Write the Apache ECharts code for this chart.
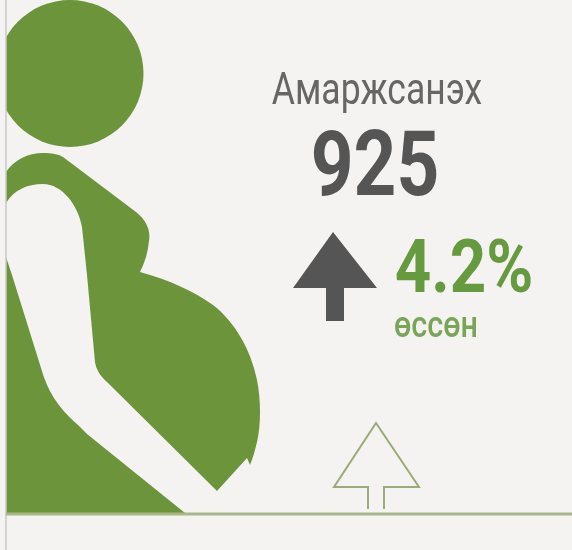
<!DOCTYPE html>
<html>
<head>
<meta charset="utf-8">
<title>Амаржсанэх</title>
<script src="https://cdn.jsdelivr.net/npm/echarts@6/dist/echarts.min.js"></script>
<style>
  html, body { margin: 0; padding: 0; background: #f4f3f1; }
  #chart { width: 572px; height: 550px; filter: blur(0.6px); }
</style>
</head>
<body>
<div id="chart"></div>
<script>
const title = 'Амаржсанэх';
const births = [925];
const changePct = [4.2];
const changeLabel = 'өссөн';

const bg = '#f4f3f1';
const green = '#6c943a';
const dark = '#555555';

// pictogram outlines
const bodyPath = 'M6 172 C14 160 28 153 43 153 C52 153 58 154 63 157 L136 212 C146 220 151 230 149 241 ' +
    'C148 252 145 262 140 272 C170 280 195 292 213 305 C235 322 251 350 257 380 C261 400 261 425 257 442 ' +
    'C255 450 253 458 250 465 L247 458 L217 491 L107 382 C100 376 96 369 95 362 L87 275 L82 227 ' +
    'C78 205 62 184 43 184 C27 184 14 190 6 203 Z';
const lapPath = 'M6 257 L12 275 L41 368 C47 390 58 408 78 425 C82 429 85 432 87 434 L185 513 L6 513 Z';

echarts.graphic.registerShape('bodyShape', echarts.graphic.extendPath(bodyPath, {}));
echarts.graphic.registerShape('lapShape', echarts.graphic.extendPath(lapPath, {}));

const chart = echarts.init(document.getElementById('chart'), null, { renderer: 'canvas' });

function label(text, x, y, size, weight, color, scaleX) {
    return {
        type: 'text',
        x: x,
        y: y,
        scaleX: scaleX,
        style: {
            text: text,
            fill: color,
            font: `${weight} ${size}px Roboto, sans-serif`,
            align: 'center',
            verticalAlign: 'middle'
        }
    };
}

chart.setOption({
    backgroundColor: bg,
    animation: false,
    graphic: [
        { type: 'circle', shape: { cx: 70, cy: 73.5, r: 73.5 }, style: { fill: green } },
        // hides the part of the head left of the rule
        { type: 'rect', shape: { x: 0, y: 0, width: 6, height: 150 }, style: { fill: bg } },
        { type: 'bodyShape', style: { fill: green } },
        { type: 'lapShape', style: { fill: green } },
        { type: 'line', shape: { x1: 6, y1: 0, x2: 6, y2: 550 }, style: { stroke: '#c9c9c9', lineWidth: 1.5 } },
        { type: 'line', shape: { x1: 6, y1: 514, x2: 572, y2: 514 }, style: { stroke: '#a8b788', lineWidth: 3 } },

        label(title, 377, 93, 45, 'normal', '#666666', 0.79),
        label(String(births[0]), 375, 172, 90, 'bold', dark, 0.83),

        // solid arrow
        {
            type: 'polygon',
            shape: { points: [[333, 232], [377, 288], [344, 288], [344, 321], [326, 321], [326, 288], [293, 288]] },
            style: { fill: dark }
        },
        label(changePct[0] + '%', 464, 273, 74, 'bold', '#669a3f', 0.86),
        label(changeLabel, 436, 328, 36, '500', '#7aa457', 0.85),

        // outlined arrow on the baseline
        {
            type: 'polyline',
            shape: { points: [[368, 509], [368, 487], [334, 487], [376, 423], [419, 487], [384, 487], [384, 509]] },
            style: { fill: 'none', stroke: '#9aaa78', lineWidth: 2 }
        }
    ]
});
</script>
</body>
</html>
